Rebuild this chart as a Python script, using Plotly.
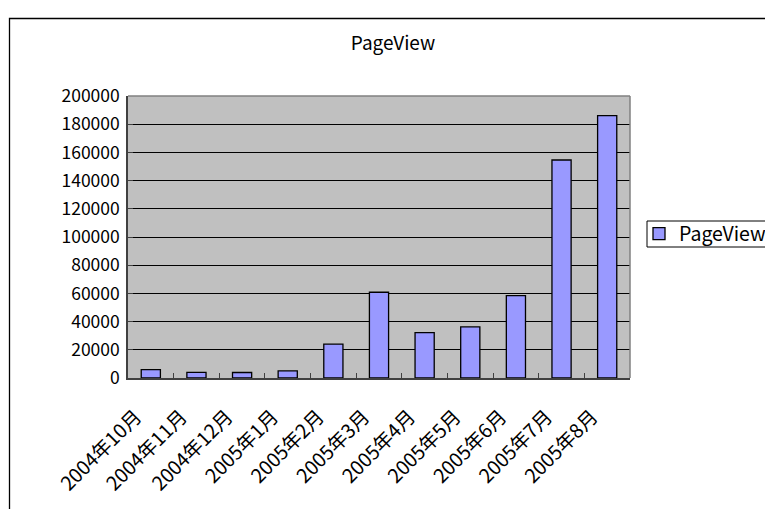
import plotly.graph_objects as go

categories = ["2004年10月", "2004年11月", "2004年12月", "2005年1月", "2005年2月", "2005年3月",
              "2005年4月", "2005年5月", "2005年6月", "2005年7月", "2005年8月"]
pageviews = [5900, 4000, 3900, 5000, 24000, 60800, 32200, 36200, 58400, 154600, 186100]
y_ticks = [0, 20000, 40000, 60000, 80000, 100000, 120000, 140000, 160000, 180000, 200000]

FONT = "Noto Sans CJK JP, Noto Sans, sans-serif"

fig = go.Figure()
fig.add_trace(go.Bar(
    x=categories, y=pageviews, name="PageView",
    marker=dict(color="#9999FF", line=dict(color="black", width=1.3)),
    showlegend=True,
))

W, H = 765, 509
L, R, T, B = 128, 135, 96, 131
pw, ph = W - L - R, H - T - B

def px2x(px):
    return (px - L) / pw

def py2y(py):
    return (H - B - py) / ph

fig.update_layout(
    width=W, height=H,
    margin=dict(l=L, r=R, t=T, b=B, autoexpand=False),
    paper_bgcolor="white",
    plot_bgcolor="#C0C0C0",
    font=dict(family=FONT, color="black", size=17),
    bargap=0.58,
    title=dict(text="PageView", x=393 / W, xanchor="center", y=1 - 43 / H, yanchor="middle",
               font=dict(family=FONT, size=19, color="black")),
    legend=dict(x=px2x(639), y=py2y(234), xanchor="left", yanchor="middle",
                bgcolor="rgba(0,0,0,0)", borderwidth=0,
                font=dict(family=FONT, size=19.5, color="black"),
                itemwidth=30),
    showlegend=True,
)

fig.update_xaxes(
    type="category", tickangle=-45, tickfont=dict(family=FONT, size=19.5),
    showline=True, linecolor="#404040", linewidth=1.5, mirror=False,
    ticks="inside", ticklen=5, tickcolor="#404040", tickson="boundaries",
    showgrid=False, zeroline=False, ticklabelstandoff=18, ticklabelshift=-15,
)
fig.update_yaxes(
    range=[0, 200000], tickvals=y_ticks, ticktext=[str(v) for v in y_ticks],
    tickfont=dict(family=FONT, size=17.5),
    showline=True, linecolor="#404040", linewidth=1.5,
    showgrid=True, gridcolor="black", gridwidth=1,
    ticks="inside", ticklen=5, tickcolor="#404040",
    zeroline=False, ticklabelstandoff=3,
)

# plot area border (top and right, gray)
fig.add_shape(type="line", xref="paper", yref="paper", x0=0, x1=1, y0=1, y1=1,
              line=dict(color="#808080", width=1.5), layer="above")
fig.add_shape(type="line", xref="paper", yref="paper", x0=1, x1=1, y0=0, y1=1,
              line=dict(color="#808080", width=1.5), layer="above")
# outer chart border
fig.add_shape(type="rect", xref="paper", yref="paper",
              x0=px2x(9.5), x1=px2x(800), y0=py2y(18.5), y1=py2y(560),
              line=dict(color="black", width=1.3), fillcolor="rgba(0,0,0,0)", layer="below")
# legend box
fig.add_shape(type="rect", xref="paper", yref="paper",
              x0=px2x(647), x1=px2x(800), y0=py2y(221), y1=py2y(247),
              line=dict(color="black", width=1), fillcolor="white", layer="below")

fig.write_html("out.html")
